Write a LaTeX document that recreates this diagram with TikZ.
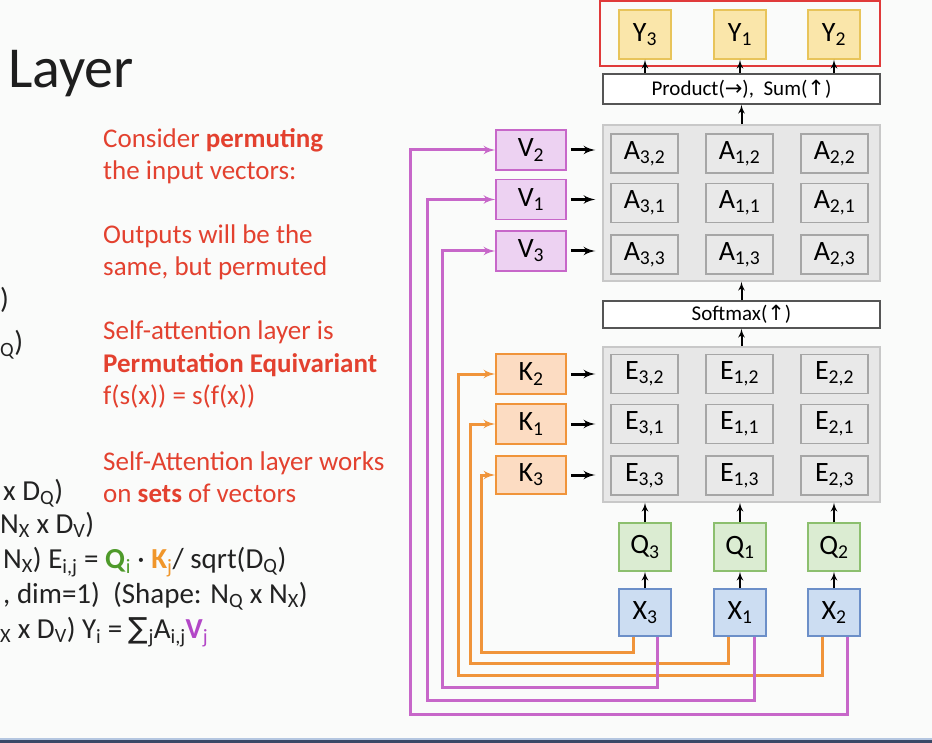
\documentclass[tikz,border=0pt]{standalone}
\usepackage{fontspec}
\usepackage{xcolor}
\setmainfont{Carlito}
\newfontfamily\symfont{DejaVu Sans}
\usetikzlibrary{arrows}

\definecolor{slidebg}{HTML}{FAFBFA}
\definecolor{slidered}{HTML}{E3412F}
\definecolor{titlegray}{HTML}{1E1E1E}
\definecolor{inkblack}{HTML}{222222}
\definecolor{yfill}{HTML}{FAE6AA}
\definecolor{yedge}{HTML}{E8C45A}
\definecolor{vfill}{HTML}{EDD2F2}
\definecolor{vedge}{HTML}{C767C9}
\definecolor{kfill}{HTML}{FCDCC2}
\definecolor{kedge}{HTML}{F0943A}
\definecolor{qfill}{HTML}{DBECD2}
\definecolor{qedge}{HTML}{8CBF6E}
\definecolor{xfill}{HTML}{CCDDF2}
\definecolor{xedge}{HTML}{6C8FC8}
\definecolor{greyfill}{HTML}{E7E7E7}
\definecolor{greyedge}{HTML}{C8C8C8}
\definecolor{cellfill}{HTML}{E9E9E9}
\definecolor{celledge}{HTML}{A6A6A6}
\definecolor{opedge}{HTML}{555555}
\definecolor{outred}{HTML}{E03A3A}
\definecolor{qgreen}{HTML}{4E9A2A}
\definecolor{korange}{HTML}{F0962A}
\definecolor{vpurple}{HTML}{B347C7}
\definecolor{edgelight}{HTML}{B4C6E0}
\definecolor{edgedark}{HTML}{3A4866}

\newcommand{\boxfont}{\fontsize{28}{32}\selectfont}
\newcommand{\notefont}{\fontsize{27}{32}\selectfont}
\newcommand{\eqnfont}{\fontsize{29}{34}\selectfont}

\tikzstyle{note} = [anchor=base west, inner sep=0pt, text=slidered, font=\notefont]
\tikzstyle{eqn} = [anchor=base west, inner sep=0pt, text=inkblack, font=\eqnfont]
\tikzstyle{ybox} = [draw=yedge, fill=yfill, line width=1.5pt, minimum width=52pt, minimum height=49pt, inner sep=0pt, font=\boxfont]
\tikzstyle{vbox} = [draw=vedge, fill=vfill, line width=1.5pt, minimum width=70pt, minimum height=40pt, inner sep=0pt, font=\boxfont]
\tikzstyle{kbox} = [draw=kedge, fill=kfill, line width=1.5pt, minimum width=70pt, minimum height=40pt, inner sep=0pt, font=\boxfont]
\tikzstyle{qbox} = [draw=qedge, fill=qfill, line width=1.5pt, minimum width=52pt, minimum height=48pt, inner sep=0pt, font=\boxfont]
\tikzstyle{xbox} = [draw=xedge, fill=xfill, line width=1.5pt, minimum width=52pt, minimum height=47pt, inner sep=0pt, font=\boxfont]
\tikzstyle{greybox} = [draw=greyedge, fill=greyfill, line width=1.5pt, minimum width=277pt, inner sep=0pt]
\tikzstyle{cell} = [draw=celledge, fill=cellfill, line width=1.2pt, minimum width=67pt, minimum height=39pt, inner sep=0pt, font=\boxfont]
\tikzstyle{opbox} = [draw=opedge, fill=white, line width=1.5pt, minimum width=277pt, inner sep=0pt, font=\fontsize{21}{24}\selectfont]
\tikzstyle{outbox} = [draw=outred, line width=2.8pt, minimum width=280pt, minimum height=65pt, inner sep=0pt]
\tikzstyle{uparrow} = [draw=black, line width=2pt, -latex']
\tikzstyle{sidearrow} = [draw=black, line width=3pt, -latex', shorten <=4pt, shorten >=7pt]
\tikzstyle{kline} = [draw=kedge, line width=3pt, -latex']
\tikzstyle{vline} = [draw=vedge, line width=3pt, -latex']

\begin{document}
\begin{tikzpicture}[x=1pt,y=-1pt]
\useasboundingbox (0,0) rectangle (932,743);
\clip (0,0) rectangle (932,743);
\fill[slidebg] (0,0) rectangle (932,743);
\fill[edgelight] (0,738) rectangle (932,740);
\fill[edgedark] (0,740) rectangle (932,743);
%
\node[anchor=base west, inner sep=0pt, text=titlegray, font=\fontsize{58}{60}\selectfont] (title) at (8,88) {Layer};
%
\node[note] (n1) at (103,148) {Consider \textbf{permuting}};
\node[note] (n2) at (103,180) {the input vectors:};
\node[note] (n3) at (103,244) {Outputs will be the};
\node[note] (n4) at (103,276) {same, but permuted};
\node[note] (n5) at (103,340) {Self-attention layer is};
\node[note] (n6) at (103,372) {\textbf{Permutation Equivariant}};
\node[note] (n7) at (103,404) {f(s(x)) = s(f(x))};
\node[note] (n8) at (103,470) {Self-Attention layer works};
\node[note] (n9) at (103,502) {on \textbf{sets} of vectors};
%
\node[eqn] (e0) at (0,309) {)};
\node[eqn] (e1) at (0,352) {\textsubscript{Q})};
\node[eqn] (e2) at (3,500) {x D\textsubscript{Q})};
\node[eqn] (e3) at (0,533) {N\textsubscript{X} x D\textsubscript{V})};
\node[eqn] (e4) at (3,568) {N\textsubscript{X}) E\textsubscript{i,j} = \textcolor{qgreen}{\textbf{Q}\textsubscript{i}} · \textcolor{korange}{\textbf{K}\textsubscript{j}}/ sqrt(D\textsubscript{Q})};
\node[eqn] (e5) at (3,603) {, dim=1)\ \ (Shape: N\textsubscript{Q} x N\textsubscript{X})};
\node[eqn] (e6) at (0,638) {\textsubscript{X} x D\textsubscript{V}) Y\textsubscript{i} = {\symfont ∑}\textsubscript{j}A\textsubscript{i,j}\textcolor{vpurple}{\textbf{V}\textsubscript{j}}};
%
\node[outbox] (out) at (740,33.5) {};
\node[ybox] (Y3) at (645,34.5) {Y\textsubscript{3}};
\node[ybox] (Y1) at (740,34.5) {Y\textsubscript{1}};
\node[ybox] (Y2) at (834,34.5) {Y\textsubscript{2}};
\node[opbox, minimum height=30pt] (prod) at (741.5,89) {Product({\symfont →}),\ \ Sum({\symfont ↑})};
%
\node[greybox, minimum height=156pt] (Abox) at (741.5,203) {};
\node[cell] (A32) at (644.5,153.5) {A\textsubscript{3,2}};
\node[cell] (A12) at (739.5,153.5) {A\textsubscript{1,2}};
\node[cell] (A22) at (834.5,153.5) {A\textsubscript{2,2}};
\node[cell] (A31) at (644.5,203) {A\textsubscript{3,1}};
\node[cell] (A11) at (739.5,203) {A\textsubscript{1,1}};
\node[cell] (A21) at (834.5,203) {A\textsubscript{2,1}};
\node[cell] (A33) at (644.5,254.5) {A\textsubscript{3,3}};
\node[cell] (A13) at (739.5,254.5) {A\textsubscript{1,3}};
\node[cell] (A23) at (834.5,254.5) {A\textsubscript{2,3}};
\node[vbox] (V2) at (531,150) {V\textsubscript{2}};
\node[vbox] (V1) at (531,199.5) {V\textsubscript{1}};
\node[vbox] (V3) at (531,251) {V\textsubscript{3}};
%
\node[opbox, minimum height=27pt] (soft) at (741.5,314.5) {Softmax({\symfont ↑})};
%
\node[greybox, minimum height=155pt] (Ebox) at (741.5,424.5) {};
\node[cell] (E32) at (644.5,374) {E\textsubscript{3,2}};
\node[cell] (E12) at (739.5,374) {E\textsubscript{1,2}};
\node[cell] (E22) at (834.5,374) {E\textsubscript{2,2}};
\node[cell] (E31) at (644.5,424) {E\textsubscript{3,1}};
\node[cell] (E11) at (739.5,424) {E\textsubscript{1,1}};
\node[cell] (E21) at (834.5,424) {E\textsubscript{2,1}};
\node[cell] (E33) at (644.5,475.5) {E\textsubscript{3,3}};
\node[cell] (E13) at (739.5,475.5) {E\textsubscript{1,3}};
\node[cell] (E23) at (834.5,475.5) {E\textsubscript{2,3}};
\node[kbox] (K2) at (531,374) {K\textsubscript{2}};
\node[kbox] (K1) at (531,424) {K\textsubscript{1}};
\node[kbox, minimum height=38pt] (K3) at (531,475) {K\textsubscript{3}};
%
\node[qbox] (Q3) at (645,547) {Q\textsubscript{3}};
\node[qbox] (Q1) at (740,547) {Q\textsubscript{1}};
\node[qbox] (Q2) at (834,547) {Q\textsubscript{2}};
\node[xbox] (X3) at (645,612.5) {X\textsubscript{3}};
\node[xbox] (X1) at (740,612.5) {X\textsubscript{1}};
\node[xbox] (X2) at (834,612.5) {X\textsubscript{2}};
%
\path[uparrow] (prod.north -| Y3) -- (Y3.south);
\path[uparrow] (prod.north -| Y1) -- (Y1.south);
\path[uparrow] (prod.north -| Y2) -- (Y2.south);
\path[uparrow] (Abox.north) -- (prod.south);
\path[uparrow] (soft.north) -- (Abox.south);
\path[uparrow] (Ebox.north) -- (soft.south);
\path[uparrow] (Q3.north) -- (Q3.north |- Ebox.south);
\path[uparrow] (Q1.north) -- (Q1.north |- Ebox.south);
\path[uparrow] (Q2.north) -- (Q2.north |- Ebox.south);
\path[uparrow] (X3.north) -- (Q3.south);
\path[uparrow] (X1.north) -- (Q1.south);
\path[uparrow] (X2.north) -- (Q2.south);
%
\path[sidearrow] (V2.east) -- (V2.east -| Abox.west);
\path[sidearrow] (V1.east) -- (V1.east -| Abox.west);
\path[sidearrow] (V3.east) -- (V3.east -| Abox.west);
\path[sidearrow] (K2.east) -- (K2.east -| Ebox.west);
\path[sidearrow] (K1.east) -- (K1.east -| Ebox.west);
\path[sidearrow] (K3.east) -- (K3.east -| Ebox.west);
%
\coordinate (k3turn) at (481,652);
\coordinate (k1turn) at (470,663);
\coordinate (k2turn) at (458,675);
\path[kline] ([xshift=-12pt]X3.south) |- (k3turn) |- (K3.west);
\path[kline] ([xshift=-12pt]X1.south) |- (k1turn) |- (K1.west);
\path[kline] ([xshift=-12pt]X2.south) |- (k2turn) |- (K2.west);
%
\coordinate (v3turn) at (442,687);
\coordinate (v1turn) at (427,700);
\coordinate (v2turn) at (410,714);
\path[vline] ([xshift=12pt]X3.south) |- (v3turn) |- (V3.west);
\path[vline] ([xshift=14pt]X1.south) |- (v1turn) |- (V1.west);
\path[vline] ([xshift=13pt]X2.south) |- (v2turn) |- (V2.west);
\end{tikzpicture}
\end{document}
